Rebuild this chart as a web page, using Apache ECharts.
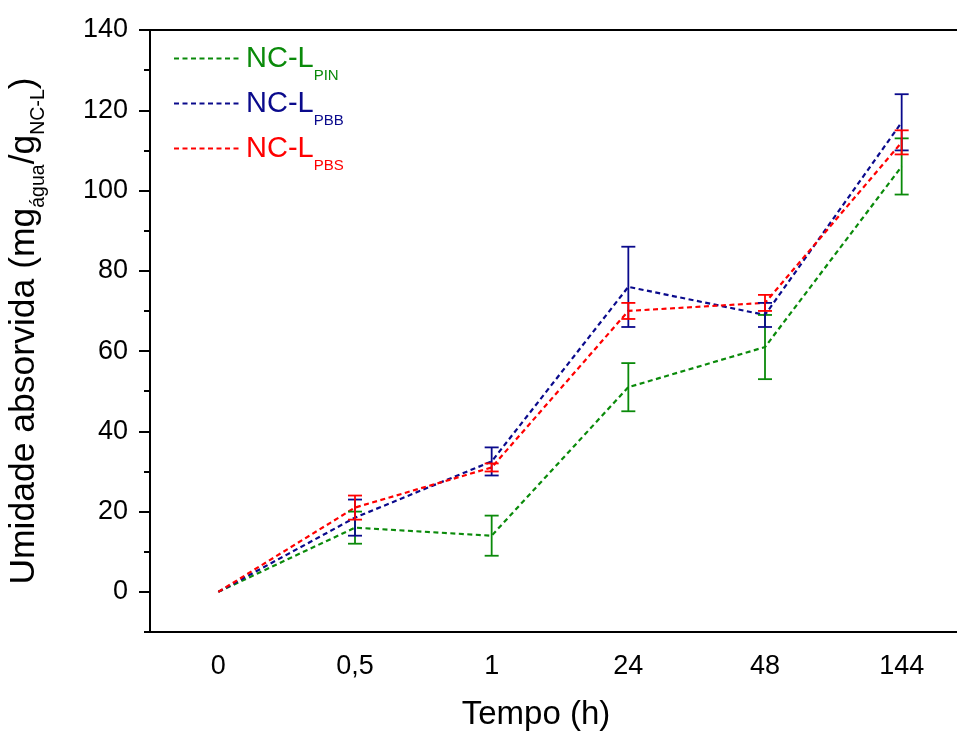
<!DOCTYPE html>
<html><head><meta charset="utf-8">
<script src="https://cdn.jsdelivr.net/npm/echarts@6/dist/echarts.min.js"></script>
<style>html,body{margin:0;padding:0;background:#fff}#c{width:957px;height:731px}</style>
</head><body><div id="c"></div>
<script>
const categories = ['0', '0,5', '1', '24', '48', '144'];
const pinMean = [0, 16, 14, 51, 61, 106];
const pinErr  = [0, 4, 5, 6, 8, 7];
const pbbMean = [0, 18.5, 32.5, 76, 69, 117];
const pbbErr  = [0, 4.5, 3.5, 10, 3, 7];
const pbsMean = [0, 21, 31, 70, 72, 112];
const pbsErr  = [0, 3, 1, 2, 2, 3];
const yMin = -10, yMax = 140;

const FONT = "'Liberation Sans', Arial, sans-serif";
const groups = [
  { name: 'NC-L PIN', sub: 'PIN', color: '#0a8a0a', mean: pinMean, err: pinErr },
  { name: 'NC-L PBB', sub: 'PBB', color: '#0a0a8c', mean: pbbMean, err: pbbErr },
  { name: 'NC-L PBS', sub: 'PBS', color: '#ff0000', mean: pbsMean, err: pbsErr }
];

const series = [];
groups.forEach(g => {
  series.push({
    type: 'line', name: g.name, xAxisIndex: 0, yAxisIndex: 0,
    data: g.mean, symbol: 'none', showSymbol: false, z: 3,
    lineStyle: { color: g.color, width: 2.2, type: [5, 3.5] },
    itemStyle: { color: g.color }
  });
  series.push({
    type: 'custom', name: g.name + ' err', xAxisIndex: 0, yAxisIndex: 0, z: 4,
    encode: { x: 0, y: [1, 2] },
    data: g.mean.map((m, i) => [i, m - g.err[i], m + g.err[i]]),
    renderItem: function (params, api) {
      const x = api.value(0), lo = api.value(1), hi = api.value(2);
      if (hi === lo) return null;
      const p1 = api.coord([x, lo]), p2 = api.coord([x, hi]);
      const w = 7;
      const style = { stroke: g.color, lineWidth: 1.8, fill: null };
      return { type: 'group', children: [
        { type: 'line', shape: { x1: p1[0], y1: p1[1], x2: p2[0], y2: p2[1] }, style: style },
        { type: 'line', shape: { x1: p1[0] - w, y1: p1[1], x2: p1[0] + w, y2: p1[1] }, style: style },
        { type: 'line', shape: { x1: p2[0] - w, y1: p2[1], x2: p2[0] + w, y2: p2[1] }, style: style }
      ]};
    }
  });
});

const chart = echarts.init(document.getElementById('c'), null, { renderer: 'canvas' });
chart.setOption({
  animation: false,
  backgroundColor: '#fff',
  textStyle: { fontFamily: FONT },
  grid: [
    { left: 150, width: 820, top: 30, bottom: 99, show: true, borderColor: '#000', borderWidth: 2, containLabel: false, outerBoundsMode: 'none' },
    { left: 150, width: 820, top: 30, bottom: 139, containLabel: false, outerBoundsMode: 'none' }
  ],
  legend: {
    orient: 'vertical', left: 168, top: 39, itemWidth: 65, itemHeight: 14, itemGap: 6,
    itemStyle: { opacity: 0 },
    data: groups.map(g => ({ name: g.name, textStyle: { color: g.color } })),
    formatter: function (name) {
      const g = groups.find(x => x.name === name);
      return '{m|NC-L}{s|' + g.sub + '}';
    },
    textStyle: {
      fontFamily: FONT,
      rich: {
        m: { fontSize: 29, fontFamily: FONT, padding: [0, 0, 0, 2] },
        s: { fontSize: 15, fontFamily: FONT, padding: [34, 0, 0, 0] }
      }
    }
  },
  xAxis: [
    {
      type: 'category', gridIndex: 0, data: categories, boundaryGap: true,
      axisLine: { onZero: false, lineStyle: { color: '#000', width: 2 } },
      axisTick: { alignWithLabel: true, length: 12, lineStyle: { color: '#000', width: 2 } },
      axisLabel: { color: '#000', fontSize: 27, fontFamily: FONT, margin: 21 },
      splitLine: { show: false },
      name: 'Tempo (h)', nameLocation: 'middle', nameGap: 66,
      nameTextStyle: { color: '#000', fontSize: 33, fontFamily: FONT, padding: [0, 48, 0, 0] }
    },
    { type: 'category', gridIndex: 1, data: categories, show: false }
  ],
  yAxis: [
    {
      type: 'value', gridIndex: 0, min: yMin, max: yMax, interval: 10,
      axisLine: { show: true, onZero: false, lineStyle: { color: '#000', width: 2 } },
      axisTick: { show: true, length: 6, lineStyle: { color: '#000', width: 2 } },
      axisLabel: { show: false },
      splitLine: { show: false },
      name: '{m|Umidade absorvida (mg}{s|água}{m|/g}{s|NC-L}{m|)}',
      nameLocation: 'middle', nameGap: 101,
      nameTextStyle: {
        color: '#000', fontFamily: FONT,
        rich: {
          m: { fontSize: 35.5, fontFamily: FONT, color: '#000' },
          s: { fontSize: 19.5, fontFamily: FONT, color: '#000', padding: [30, 0, 0, 0] }
        }
      }
    },
    {
      type: 'value', gridIndex: 1, min: 0, max: yMax, interval: 20,
      axisLine: { show: false },
      axisTick: { show: true, length: 11, lineStyle: { color: '#000', width: 2 } },
      axisLabel: { color: '#000', fontSize: 27, fontFamily: FONT, margin: 22 },
      splitLine: { show: false }
    }
  ],
  series: series
});
</script>
</body></html>
